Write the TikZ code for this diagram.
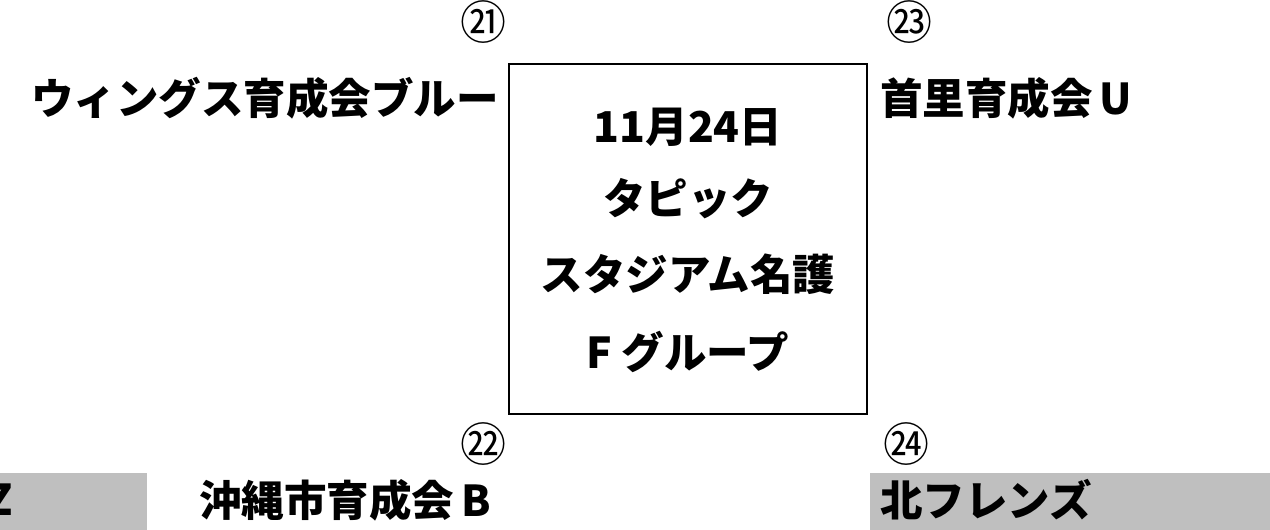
\documentclass[tikz,border=0pt]{standalone}
\usepackage{fontspec}
\usepackage{xcolor}
\usepackage{tikz}
\usetikzlibrary{positioning}
\newfontfamily\jpfont{Noto Sans CJK JP}
\definecolor{BarGray}{RGB}{191, 191, 191}
\tikzset{
    team/.style={inner sep=0pt, font=\jpfont\bfseries\fontsize{42.5}{46}\selectfont},
    seed/.style={inner sep=0pt, font=\jpfont\fontsize{46}{50}\selectfont},
    info/.style={inner sep=0pt, font=\jpfont\bfseries\fontsize{42.5}{46}\selectfont},
}

\begin{document}
\begin{tikzpicture}[x=1pt, y=-1pt]
    \useasboundingbox (0,0) rectangle (1270,530);
    \clip (0,0) rectangle (1270,530);
    % grey bars at the bottom
    \fill[BarGray] (0,473) rectangle (147,530);
    \fill[BarGray] (870,473) rectangle (1270,530);
    % venue box
    \node[draw, line width=1.5pt, minimum width=358pt, minimum height=350pt, inner sep=0pt] (venue) at (688,239) {};
    \node[info] (date) at (688,127) {11月24日};
    \node[info] (place1) at (688,199) {タピック};
    \node[info] (place2) at (688,274) {スタジアム名護};
    \node[info] (group) at (688,352) {F グループ};
    % seeds
    \node[seed] (n21) at (483,22) {㉑};
    \node[seed] (n23) at (909,22) {㉓};
    \node[seed] (n22) at (483,444) {㉒};
    \node[seed] (n24) at (906,444) {㉔};
    % teams
    \node[team, anchor=east] (wings) at (499,98) {ウィングス育成会ブルー};
    \node[team, anchor=west] (shuri) at (880,98) {首里育成会\,U};
    \node[team, anchor=west] (okinawa) at (199,500) {沖縄市育成会\,B};
    \node[team, anchor=west] (kita) at (880,500) {北フレンズ};
    \node[team, anchor=east] (cut) at (13,500) {Z};
\end{tikzpicture}
\end{document}
